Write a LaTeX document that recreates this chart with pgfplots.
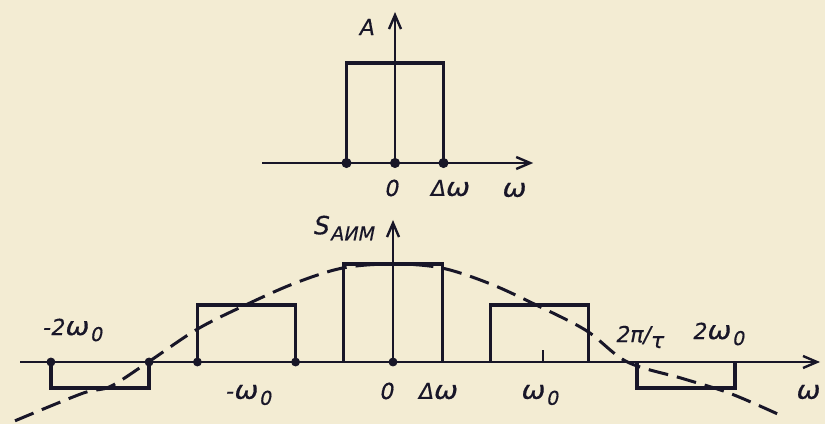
\documentclass[border=0pt]{standalone}
\usepackage{fontspec}
\setmainfont{DejaVu Sans}
\newfontfamily\lab{DejaVu Sans}[FakeSlant=0.2, FakeBold=0.5]
\usepackage{pgfplots}
\pgfplotsset{compat=1.18}
\usetikzlibrary{arrows.meta}
\definecolor{paper}{RGB}{243,236,211}
\definecolor{ink}{RGB}{24,22,40}

\newcommand{\sub}[1]{\kern1pt\raisebox{-0.5ex}{\fontsize{9.5}{10}\selectfont #1}}
\newcommand{\w}{\scalebox{1.3}[1.15]{ω}}

\begin{document}
\begin{tikzpicture}
\path[use as bounding box, fill=paper] (0,0) rectangle (412.5pt,212pt);

\pgfplotsset{
  spec/.style={
    anchor=origin, axis lines=middle, xtick=\empty, ytick=\empty,
    clip=false,
    axis line style={ink, line width=1.4pt,
      -{Straight Barb[length=7pt,width=6pt,line width=1.2pt]}},
  },
  bar/.style={ink, line width=1.8pt, line join=miter, no marks},
  dots/.style={only marks, mark=*, mark size=2.3pt, ink,
    mark options={fill=ink, draw=ink}},
}

% baseband spectrum, horizontal unit = delta omega
\begin{axis}[spec, at={(197.5pt,130.5pt)}, x=24.25pt, y=50pt,
  xmin=-2.74, xmax=2.85, ymin=0, ymax=1.51]
  \addplot[bar] coordinates {(-1,0) (-1,1) (1,1) (1,0)};
  \addplot[dots] coordinates {(-1,0) (0,0) (1,0)};
\end{axis}

% modulated spectrum, horizontal unit = omega_0
\begin{axis}[spec, at={(196.5pt,31pt)}, x=73.25pt, y=49pt,
  xmin=-2.546, xmax=2.915, ymin=0, ymax=1.449]
  \addplot[bar] coordinates {(-0.338,0) (-0.338,1) (0.338,1) (0.338,0)};
  \addplot[bar] coordinates {(-1.335,0) (-1.335,0.58) (-0.665,0.58) (-0.665,0)};
  \addplot[bar] coordinates {(0.665,0) (0.665,0.58) (1.335,0.58) (1.335,0)};
  \addplot[bar] coordinates {(-2.335,0) (-2.335,-0.265) (-1.665,-0.265) (-1.665,0)};
  \addplot[bar] coordinates {(1.665,0) (1.665,-0.265) (2.335,-0.265) (2.335,0)};
  \addplot[ink, line width=1.1pt, no marks] coordinates {(1.024,0) (1.024,0.12)};
  \addplot[dots, mark size=2.0pt] coordinates {(-2.335,0) (-1.665,0) (-1.335,0) (-0.665,0) (0,0)};
  % envelope
  \addplot[ink, line width=1.5pt, dash pattern=on 10pt off 4.5pt, smooth, tension=0.55, no marks]
    coordinates {(-2.58,-0.60) (-2.12,-0.32) (-1.93,-0.25) (-1.67,0) (-1.33,0.34)
      (-0.98,0.60) (-0.66,0.81) (-0.34,0.96) (0,1.0) (0.33,0.96) (0.66,0.80)
      (0.98,0.58) (1.32,0.32) (1.60,0) (1.98,-0.17) (2.30,-0.32) (2.64,-0.54)};
\end{axis}

\begin{scope}[shift={(0,212pt)}, x=0.5pt, y=-0.5pt,
  every node/.style={font=\lab\fontsize{11}{13}\selectfont, text=ink, inner sep=0pt}]
  \node at (366,27) {A};
  \node at (391,188) {0};
  \node at (449,188) {Δ\w};
  \node at (513,190) {\w};
  \node at (343,228) {{\fontsize{12.5}{13}\selectfont S}\sub{АИМ}};
  \node at (72,330) {-2\w\sub{0}};
  \node at (248,395) {-\w\sub{0}};
  \node at (386,391) {0};
  \node at (437,391) {Δ\w};
  \node at (539,395) {\w\sub{0}};
  \node at (639,337) {2π/\raisebox{-0.5ex}{τ}};
  \node at (718,334) {2\w\sub{0}};
  \node at (807,392) {\w};
\end{scope}
\end{tikzpicture}
\end{document}
